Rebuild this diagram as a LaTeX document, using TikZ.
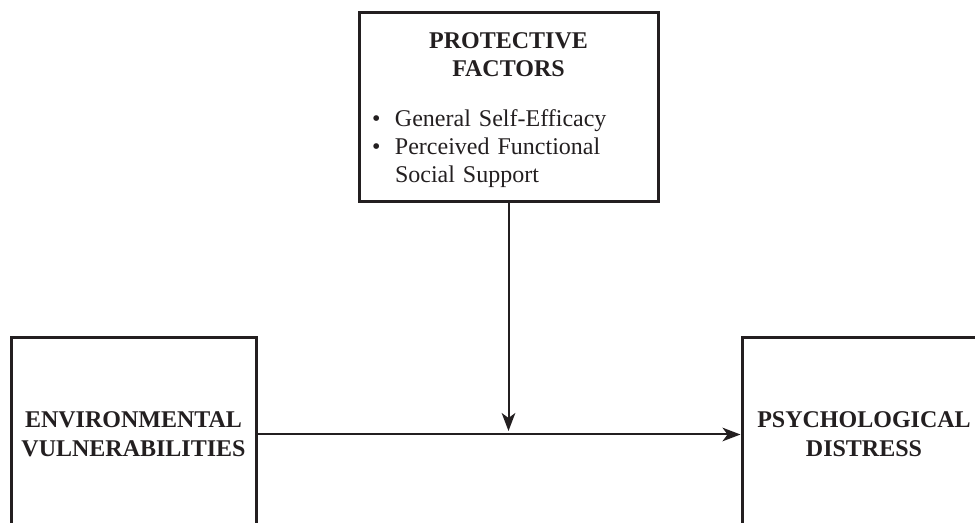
\documentclass[tikz,border=0pt]{standalone}
\usepackage{fontspec}
\setmainfont{Liberation Serif}
\usetikzlibrary{arrows.meta}
\definecolor{ink}{HTML}{231F20}
\newcommand{\itembullet}{\makebox[11.5pt][l]{\textbullet}}
\tikzset{
  box/.style={draw=ink, line width=1.5pt, rectangle, text=ink, font=\fontsize{12}{14}\selectfont},
  conn/.style={draw=ink, line width=1pt, -{Stealth[length=9pt,width=6.8pt,inset=2.5pt]}}
}
\begin{document}
\begin{tikzpicture}[x=0.5pt,y=-0.5pt]
            \useasboundingbox (0,0) rectangle (975,523);
            \clip (0,0) rectangle (975,523);
            \node[box, anchor=north, text width=136.5pt, inner xsep=6.5pt, inner ysep=0pt, minimum height=94.5pt] (prot) at (508.5,11)
              {\centering\textbf{PROTECTIVE\\FACTORS}\par\vspace{11pt}\raggedright
               \itembullet General Self-Efficacy\\
               \itembullet Perceived Functional\\
               \hspace*{11.5pt}Social Support\par\vspace{-3pt}};
            \node[box, minimum width=122.5pt, minimum height=97pt, align=center, font=\fontsize{12}{14.5}\selectfont\bfseries] (env) at (133.5,434.5) {ENVIRONMENTAL\\VULNERABILITIES};
            \node[box, minimum width=122pt, minimum height=97pt, align=center, font=\fontsize{12}{14.5}\selectfont\bfseries] (dist) at (864,434.5) {PSYCHOLOGICAL\\DISTRESS};
            \coordinate (hit) at (508.5,431);
            \draw[conn] (env.east) -- (dist.west);
            \draw[conn] (prot.south) -- (hit);
\end{tikzpicture}
\end{document}
